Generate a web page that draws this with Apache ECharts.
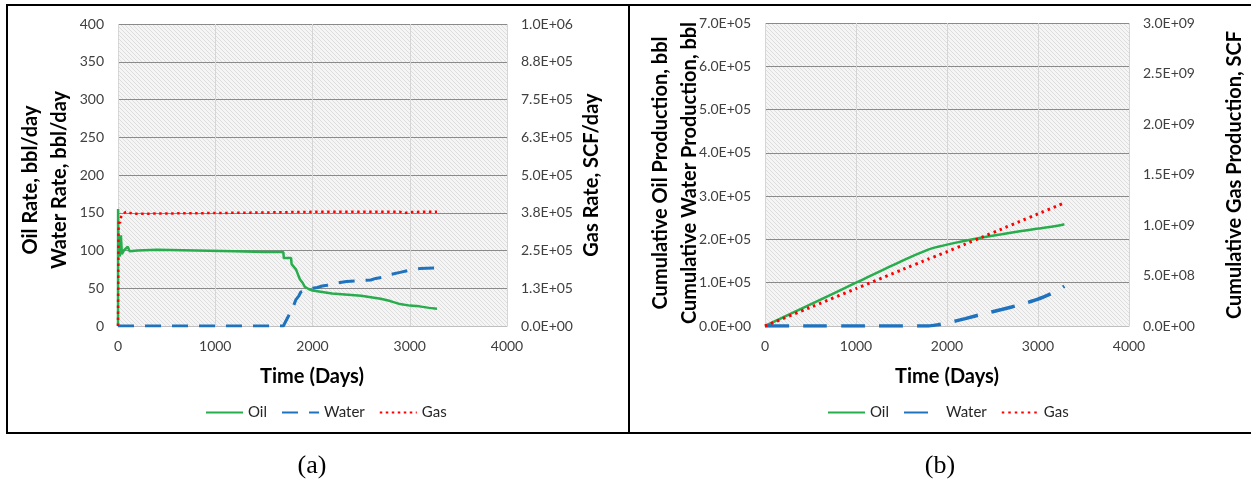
<!DOCTYPE html>
<html>
<head>
<meta charset="utf-8">
<script src="https://cdn.jsdelivr.net/npm/echarts@6/dist/echarts.min.js"></script>
<style>
html,body{margin:0;padding:0;background:#fff;}
#c{width:1251px;height:491px;}
</style>
</head>
<body>
<div id="c"></div>
<script>
// ---------- DATA ----------
// (a) rates
const oilRateDays = [0, 1, 5, 10, 20, 30, 40, 60, 80, 100, 120, 200, 400, 800, 1200, 1500, 1700, 1705, 1780, 1785, 1830, 1870, 1900, 1920, 1960, 2000, 2100, 2200, 2300, 2400, 2500, 2600, 2700, 2800, 2850, 2900, 3000, 3100, 3200, 3280];
const oilRate     = [0, 155, 95, 100, 92, 120, 95, 100, 98, 105, 99, 100, 101, 100, 99, 98, 98, 90, 90, 82, 75, 62, 57, 52, 49, 47, 45, 43, 42, 41, 40, 38, 36, 33, 31, 29, 27, 26, 24, 23];
const waterRateDays = [0, 1700, 1720, 1760, 1800, 1830, 1860, 1880, 1900, 1940, 2000, 2050, 2100, 2150, 2200, 2300, 2350, 2500, 2600, 2650, 2750, 2800, 2900, 3000, 3100, 3280];
const waterRate     = [0, 0, 5, 15, 25, 35, 40, 45, 47, 49, 50, 51, 53, 54, 56, 58, 59, 60, 61, 63, 65, 68, 71, 74, 76, 77];
const gasRateDays = [0, 5, 10, 20, 30, 50, 80, 150, 300, 600, 1000, 1500, 2000, 2500, 2900, 2950, 3000, 3100, 3280];
const gasRate     = [0, 320000, 350000, 340000, 360000, 370000, 378000, 372000, 372000, 373000, 374000, 376000, 378000, 378000, 378000, 374000, 377000, 378000, 378000];
// (b) cumulative
const cumDays  = [0, 500, 1000, 1500, 1800, 1900, 2000, 2200, 2400, 2600, 2800, 3000, 3200, 3290];
const cumOil   = [0, 50000, 100000, 150000, 177000, 183000, 188000, 197000, 205000, 212000, 219000, 225000, 231000, 235000];
const cumWater = [0, 0, 0, 0, 0, 3000, 7000, 17000, 28000, 38000, 49000, 62000, 80000, 92000];
const cumGas   = [0, 185000000, 370000000, 555000000, 665000000, 700000000, 735000000, 810000000, 885000000, 960000000, 1035000000, 1110000000, 1185000000, 1220000000];
// axes
const timeTicks = {min: 0, max: 4000, interval: 1000};
const rateAxis = {min: 0, max: 400, interval: 50};
const gasRateAxis = {min: 0, max: 1000000, interval: 125000};
const cumAxis = {min: 0, max: 700000, interval: 100000};
const cumGasAxis = {min: 0, max: 3000000000, interval: 500000000};
const seriesNames = ['Oil', 'Water', 'Gas'];

// ---------- HELPERS ----------
const zip = (a, b) => a.map((x, i) => [x, b[i]]);
const fmtE = v => {
  const s = Number(v).toExponential(1);
  const [m, e] = s.split('e');
  return m + 'E' + e[0] + e.slice(1).padStart(2, '0');
};
const fmtPlain = v => String(v);
function hatch() {
  const n = 4;
  const c = document.createElement('canvas');
  c.width = n; c.height = n;
  const ctx = c.getContext('2d');
  ctx.fillStyle = '#f5f5f5';
  ctx.fillRect(0, 0, n, n);
  ctx.fillStyle = '#dedede';
  for (let i = 0; i < n; i++) ctx.fillRect(i, i, 1, 1);
  return c;
}
const pattern = {image: hatch(), repeat: 'repeat'};

const GREEN = '#27ad4c', BLUE = '#1f72bd', RED = '#ff0000';
const FONT = 'Lato';
const lab = {fontFamily: FONT, fontSize: 14, color: '#404040'};

function xAx(gi) {
  return {
    type: 'value', gridIndex: gi, ...timeTicks,
    axisLine: {show: true, lineStyle: {color: '#bfbfbf', width: 1}},
    axisTick: {show: false},
    axisLabel: {...lab, margin: 13, formatter: fmtPlain},
    splitLine: {show: true, lineStyle: {color: '#d6d6d6', width: 1}}
  };
}
function yAx(gi, rng, pos, fmt, split) {
  return {
    type: 'value', gridIndex: gi, position: pos, ...rng,
    axisLine: {show: false}, axisTick: {show: false},
    axisLabel: {...lab, margin: 14, formatter: fmt},
    splitLine: {show: split, lineStyle: {color: '#8a8a8a', width: 1}}
  };
}
function lineS(name, xi, yi, data, color, type, width, smooth) {
  return {
    name, type: 'line', xAxisIndex: xi, yAxisIndex: yi, data,
    symbol: 'none', smooth: smooth || false, animation: false,
    lineStyle: {color, width, type}, itemStyle: {color}
  };
}
function rotText(txt, x, y, size) {
  return {type: 'text', x, y, rotation: Math.PI / 2,
    style: {text: txt, font: 'bold ' + size + 'px ' + FONT, fill: '#000', align: 'center', verticalAlign: 'middle'}};
}
function hText(txt, x, y, font) {
  return {type: 'text', x, y, style: {text: txt, font, fill: '#000', align: 'center', verticalAlign: 'middle'}};
}
const legendBase = {top: 400, itemWidth: 37, itemHeight: 10, itemGap: 14,
  itemStyle: {opacity: 0, borderWidth: 0},
  textStyle: {fontFamily: FONT, fontSize: 15, color: '#262626'}};

const chart = echarts.init(document.getElementById('c'), null, {renderer: 'canvas'});
chart.setOption({
  animation: false,
  backgroundColor: '#fff',
  grid: [
    {left: 118, top: 24, width: 389, height: 302, show: true, backgroundColor: pattern, borderWidth: 0},
    {left: 765, top: 23, width: 364, height: 303, show: true, backgroundColor: pattern, borderWidth: 0}
  ],
  xAxis: [xAx(0), xAx(1)],
  yAxis: [
    yAx(0, rateAxis, 'left', null, true),
    yAx(0, gasRateAxis, 'right', fmtE, false),
    yAx(1, cumAxis, 'left', fmtE, true),
    yAx(1, cumGasAxis, 'right', fmtE, false)
  ],
  legend: [
    {...legendBase, data: seriesNames, left: 200},
    {...legendBase, data: seriesNames.map(s => s + ' '), left: 822, formatter: n => n.trim()}
  ],
  series: [
    lineS('Oil', 0, 0, zip(oilRateDays, oilRate), GREEN, 'solid', 2.5),
    lineS('Water', 0, 0, zip(waterRateDays, waterRate), BLUE, [16, 11], 3),
    lineS('Gas', 0, 1, zip(gasRateDays, gasRate), RED, [2.5, 3.5], 2.5),
    lineS('Oil ', 1, 2, zip(cumDays, cumOil), GREEN, 'solid', 2.5, 0.2),
    lineS('Water ', 1, 2, zip(cumDays, cumWater), BLUE, [24, 14], 3.5, 0.2),
    lineS('Gas ', 1, 3, zip(cumDays, cumGas), RED, [2.5, 4], 3, 0.1)
  ],
  graphic: [
    {type: 'rect', shape: {x: 7, y: 5, width: 1250, height: 428}, style: {fill: null, stroke: '#000', lineWidth: 2}, z: 10},
    {type: 'line', shape: {x1: 629, y1: 5, x2: 629, y2: 433}, style: {stroke: '#000', lineWidth: 2}, z: 10},
    rotText('Oil Rate, bbl/day', 31, 180, 20),
    rotText('Water Rate, bbl/day', 60, 180, 20),
    rotText('Gas Rate, SCF/day', 592, 175, 20),
    rotText('Cumulative Oil Production, bbl', 661, 173, 20),
    rotText('Cumulative Water Production, bbl', 690, 173, 20),
    rotText('Cumulative Gas Production, SCF', 1235, 175, 20),
    hText('Time (Days)', 312, 377, 'bold 20px ' + FONT),
    hText('Time (Days)', 947, 377, 'bold 20px ' + FONT),
    hText('(a)', 312, 466, '26px "Liberation Serif"'),
    hText('(b)', 940, 466, '26px "Liberation Serif"')
  ]
});
</script>
</body>
</html>
